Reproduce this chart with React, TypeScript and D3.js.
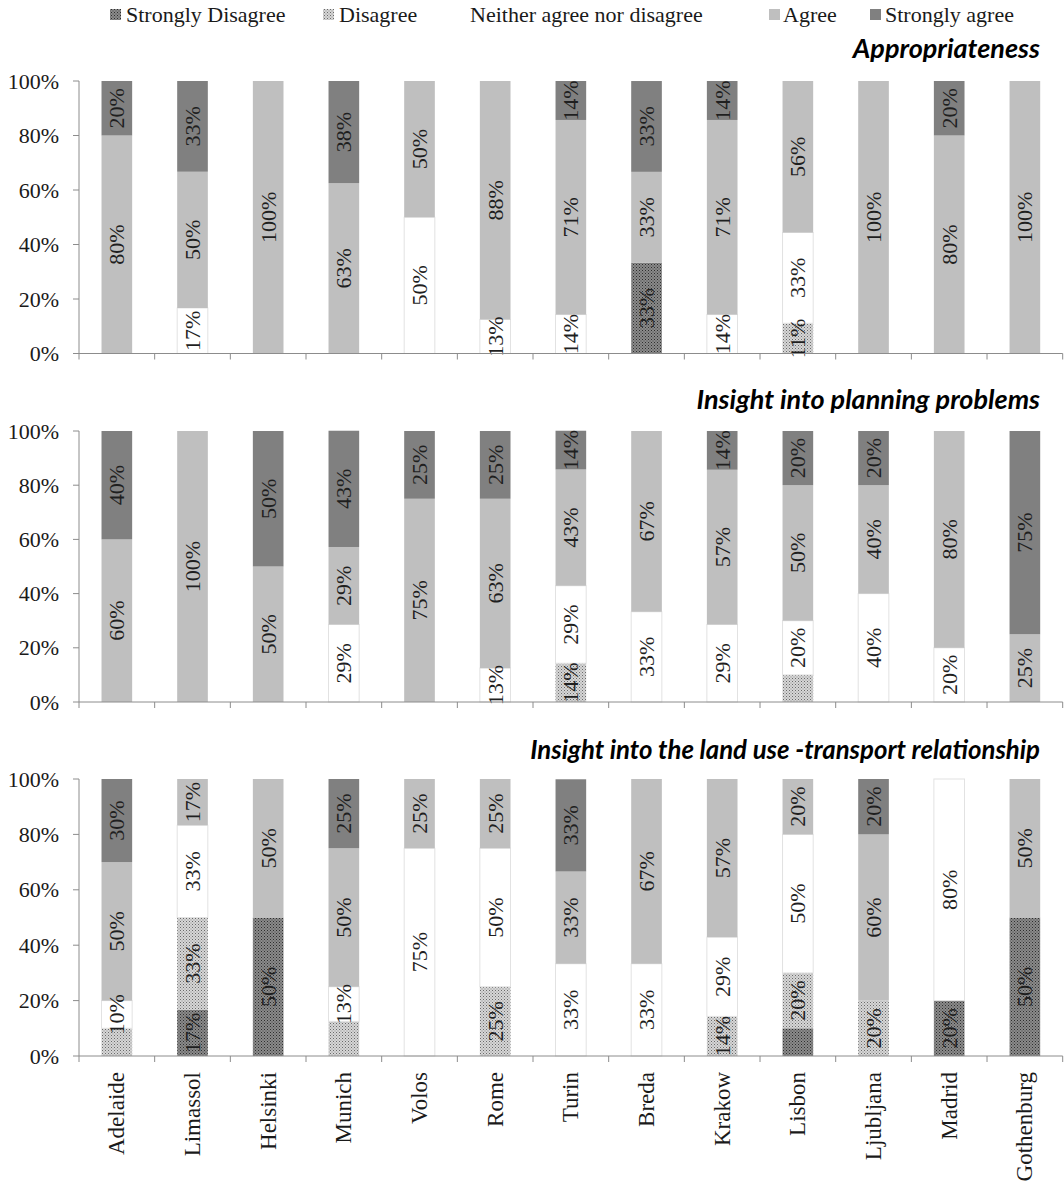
import React from 'react';
import * as d3 from 'd3';

const cities = ['Adelaide', 'Limassol', 'Helsinki', 'Munich', 'Volos', 'Rome', 'Turin', 'Breda', 'Krakow', 'Lisbon', 'Ljubljana', 'Madrid', 'Gothenburg'];
const responseKeys = ['SD', 'D', 'N', 'A', 'SA'];
const responseLabels = ['Strongly Disagree', 'Disagree', 'Neither agree nor disagree', 'Agree', 'Strongly agree'];
const panelTitles = ['Appropriateness', 'Insight into planning problems', 'Insight into the land use -transport relationship'];
const yTicks = [0, 20, 40, 60, 80, 100];

// Panel 1: Appropriateness
const appSD = [0, 0, 0, 0, 0, 0, 0, 33.33, 0, 0, 0, 0, 0];
const appD = [0, 0, 0, 0, 0, 0, 0, 0, 0, 11.1, 0, 0, 0];
const appN = [0, 16.7, 0, 0, 50, 12.5, 14.3, 0, 14.3, 33.3, 0, 0, 0];
const appA = [80, 50, 100, 62.5, 50, 87.5, 71.4, 33.33, 71.4, 55.6, 100, 80, 100];
const appSA = [20, 33.3, 0, 37.5, 0, 0, 14.3, 33.33, 14.3, 0, 0, 20, 0];

// Panel 2: Insight into planning problems
const ppSD = [0, 0, 0, 0, 0, 0, 0, 0, 0, 0, 0, 0, 0];
const ppD = [0, 0, 0, 0, 0, 0, 14.3, 0, 0, 10, 0, 0, 0];
const ppN = [0, 0, 0, 28.6, 0, 12.5, 28.6, 33.3, 28.6, 20, 40, 20, 0];
const ppA = [60, 100, 50, 28.6, 75, 62.5, 42.9, 66.7, 57.1, 50, 40, 80, 25];
const ppSA = [40, 0, 50, 42.9, 25, 25, 14.3, 0, 14.3, 20, 20, 0, 75];

// Panel 3: Insight into the land use - transport relationship
const luSD = [0, 16.7, 50, 0, 0, 0, 0, 0, 0, 10, 0, 20, 50];
const luD = [10, 33.3, 0, 12.5, 0, 25, 0, 0, 14.3, 20, 20, 0, 0];
const luN = [10, 33.3, 0, 12.5, 75, 50, 33.3, 33.3, 28.6, 50, 0, 80, 0];
const luA = [50, 16.7, 50, 50, 25, 25, 33.3, 66.7, 57.1, 20, 60, 0, 50];
const luSA = [30, 0, 0, 25, 0, 0, 33.3, 0, 0, 0, 20, 0, 0];

// segments shown without a value label (panel:city:response)
const unlabeled = ['1:Lisbon:D', '2:Adelaide:D', '2:Munich:D', '2:Lisbon:SD'];

const panelSeries = [
  [appSD, appD, appN, appA, appSA],
  [ppSD, ppD, ppN, ppA, ppSA],
  [luSD, luD, luN, luA, luSA],
];

// layout
const W = 1064;
const H = 1189;
const X0 = 79;
const X1 = 1062.7;
const panelTops = [81, 431, 779];
const panelBottoms = [353.5, 702, 1056];
const titleBaselines = [58, 409, 759];
const titleWidths = [188, 375, 510];
const legendSwatchX = [110, 323, -1, 769, 870];
const legendTextX = [126, 339, 470, 783, 885];
const SERIF = '"Liberation Serif", "Times New Roman", serif';
const TITLE_FONT = 'Lato, "DejaVu Sans", sans-serif';

const fills: Record<string, string> = {
  SD: 'url(#patSD)',
  D: 'url(#patD)',
  N: '#ffffff',
  A: '#bfbfbf',
  SA: '#808080',
};

function fitFontSize(text: string, target: number): number {
  try {
    const c = document.createElement('canvas').getContext('2d');
    if (!c) return 20;
    c.font = `italic bold 20px ${TITLE_FONT}`;
    const w = c.measureText(text).width;
    return Math.min(27, (20 * target) / w);
  } catch (e) {
    return 20;
  }
}

export default function App() {
  const x = d3.scaleBand<string>().domain(cities).range([X0, X1]).paddingInner(0.595).paddingOuter(0.2975);
  const step = x.step();
  const stack = d3.stack<any>().keys(responseKeys);
  const titleSizes = panelTitles.map((t, i) => fitFontSize(t, titleWidths[i]));

  return (
    <svg width={W} height={H} style={{ position: 'absolute', left: 0, top: 0, display: 'block', background: '#fff' }}>
      <defs>
        <pattern id="patSD" patternUnits="userSpaceOnUse" width={3} height={3}>
          <rect width={3} height={3} fill="#8a8a8a" />
          <rect x={0} y={0} width={1} height={1} fill="#2e2e2e" />
          <rect x={1.5} y={1.5} width={1} height={1} fill="#444" />
        </pattern>
        <pattern id="patD" patternUnits="userSpaceOnUse" width={3} height={3}>
          <rect width={3} height={3} fill="#d6d6d6" />
          <rect x={0} y={0} width={1} height={1} fill="#6a6a6a" />
          <rect x={1.5} y={1.5} width={1} height={1} fill="#8a8a8a" />
        </pattern>
      </defs>

      {/* Legend */}
      <g fontFamily={SERIF} fontSize={22} fill="#1a1a1a">
        {responseKeys.map((k, i) => (
          <g key={k}>
            {k !== 'N' && <rect x={legendSwatchX[i]} y={9} width={11} height={11} fill={fills[k]} />}
            <text x={legendTextX[i]} y={22}>{responseLabels[i]}</text>
          </g>
        ))}
      </g>

      {panelSeries.map((series, p) => {
        const y = d3.scaleLinear().domain([0, 100]).range([panelBottoms[p], panelTops[p]]);
        const rows = cities.map((c, i) => {
          const r: any = { city: c };
          responseKeys.forEach((k, j) => (r[k] = series[j][i]));
          return r;
        });
        const stacked = stack(rows);
        return (
          <g key={p}>
            <text
              x={1040}
              y={titleBaselines[p]}
              textAnchor="end"
              fontFamily={TITLE_FONT}
              fontStyle="italic"
              fontWeight="bold"
              fontSize={titleSizes[p]}
              fill="#000"
            >
              {panelTitles[p]}
            </text>
            {/* bars */}
            {stacked.map((layer) => (
              <g key={layer.key}>
                {layer.map((d, i) => {
                  const v = d[1] - d[0];
                  if (v <= 0) return null;
                  const bx = x(cities[i])!;
                  const y0 = y(d[1]);
                  const h = y(d[0]) - y(d[1]);
                  return (
                    <rect
                      key={i}
                      x={bx}
                      y={y0}
                      width={x.bandwidth()}
                      height={h}
                      fill={fills[layer.key]}
                      stroke={layer.key === 'N' ? '#e2e2e2' : 'none'}
                      strokeWidth={1}
                    />
                  );
                })}
              </g>
            ))}
            {/* value labels */}
            {stacked.map((layer) => (
              <g key={'l' + layer.key} fontFamily={SERIF} fontSize={22} fill="#1f1f1f">
                {layer.map((d, i) => {
                  const v = d[1] - d[0];
                  if (v <= 0) return null;
                  if (unlabeled.includes(`${p}:${cities[i]}:${layer.key}`)) return null;
                  const cx = x(cities[i])! + x.bandwidth() / 2;
                  const cy = y((d[0] + d[1]) / 2);
                  return (
                    <text
                      key={i}
                      transform={`translate(${cx},${cy}) rotate(-90)`}
                      textAnchor="middle"
                      dominantBaseline="central"
                    >
                      {Math.round(v) + '%'}
                    </text>
                  );
                })}
              </g>
            ))}
            {/* axes */}
            <line x1={X0} x2={X0} y1={y(100)} y2={y(0)} stroke="#8c8c8c" strokeWidth={1} />
            <line x1={X0} x2={X1} y1={y(0)} y2={y(0)} stroke="#8c8c8c" strokeWidth={1} />
            {yTicks.map((t) => (
              <g key={t}>
                <line x1={X0 - 6} x2={X0} y1={y(t)} y2={y(t)} stroke="#8c8c8c" />
                <text
                  x={59}
                  y={y(t)}
                  textAnchor="end"
                  dominantBaseline="central"
                  fontFamily={SERIF}
                  fontSize={22}
                  fill="#1a1a1a"
                >
                  {t + '%'}
                </text>
              </g>
            ))}
            {d3.range(cities.length + 1).map((i) => (
              <line key={i} x1={X0 + i * step} x2={X0 + i * step} y1={y(0)} y2={y(0) + 6} stroke="#8c8c8c" />
            ))}
          </g>
        );
      })}

      {/* category labels */}
      <g fontFamily={SERIF} fontSize={23} fill="#1a1a1a">
        {cities.map((c) => (
          <text
            key={c}
            transform={`translate(${x(c)! + x.bandwidth() / 2},${1072}) rotate(-90)`}
            textAnchor="end"
            dominantBaseline="central"
          >
            {c}
          </text>
        ))}
      </g>
    </svg>
  );
}
